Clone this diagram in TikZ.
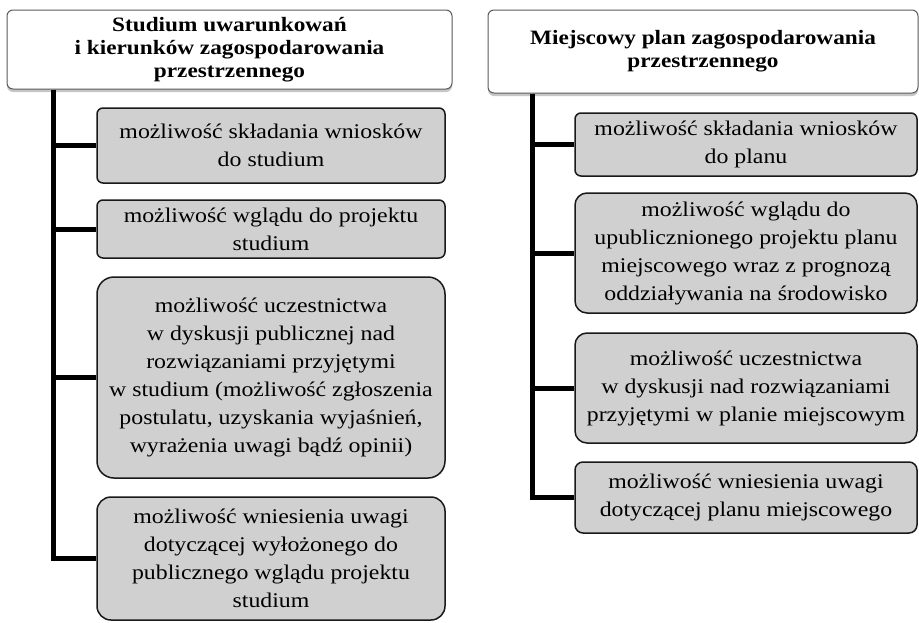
\documentclass[tikz,border=0pt]{standalone}
\usepackage{fontspec}
\setmainfont[FakeStretch=1.14]{Liberation Serif}
\usetikzlibrary{shadows}
\definecolor{boxfill}{RGB}{208,208,208}
\definecolor{headdraw}{RGB}{90,90,90}
\tikzset{
  headbox/.style={draw=headdraw, line width=1pt, fill=white, rounded corners=6pt,
    align=center, inner sep=0pt, font=\fontsize{20.4}{23}\selectfont\bfseries,
    drop shadow={shadow xshift=0pt, shadow yshift=-3pt, opacity=0.45, fill=gray}},
  itembox/.style={draw=black!90, line width=1.5pt, fill=boxfill,
    align=center, inner sep=0pt, font=\fontsize{20.9}{28}\selectfont},
  conn/.style={line width=5pt, draw=black},
}
\begin{document}
\begin{tikzpicture}[x=1pt,y=-1pt]
\useasboundingbox (0,0) rectangle (919,622);
% left column
\node[headbox, minimum width=445pt, minimum height=79pt] (LH) at (229.5,49.5)
  {Studium uwarunkowań\\i kierunków zagospodarowania\\przestrzennego};
\node[itembox, rounded corners=6pt, minimum width=348pt, minimum height=75pt] (L1) at (271,145.5)
  {możliwość składania wniosków\\do studium};
\node[itembox, rounded corners=6pt, minimum width=348pt, minimum height=58pt] (L2) at (271,229)
  {możliwość wglądu do projektu\\studium};
\node[itembox, rounded corners=17pt, minimum width=348pt, minimum height=201pt] (L3) at (271,377.5)
  {możliwość uczestnictwa\\w dyskusji publicznej nad\\rozwiązaniami przyjętymi\\w studium (możliwość zgłoszenia\\postulatu, uzyskania wyjaśnień,\\wyrażenia uwagi bądź opinii)};
\node[itembox, rounded corners=14pt, minimum width=348pt, minimum height=123pt] (L4) at (271,558.5)
  {możliwość wniesienia uwagi\\dotyczącej wyłożonego do\\publicznego wglądu projektu\\studium};
\coordinate (Ltop) at (LH.south -| 53,0);
\draw[conn] (Ltop) |- (L4.west);
\draw[conn] (L1.west -| Ltop) -- (L1.west);
\draw[conn] (L2.west -| Ltop) -- (L2.west);
\draw[conn] (L3.west -| Ltop) -- (L3.west);
% right column
\node[headbox, minimum width=430pt, minimum height=83pt] (RH) at (703,51.5)
  {Miejscowy plan zagospodarowania\\przestrzennego};
\node[itembox, rounded corners=6pt, minimum width=342pt, minimum height=63pt] (R1) at (746,144.5)
  {możliwość składania wniosków\\do planu};
\node[itembox, rounded corners=12pt, minimum width=342pt, minimum height=120pt] (R2) at (746,253)
  {możliwość wglądu do\\upublicznionego projektu planu\\miejscowego wraz z prognozą\\oddziaływania na środowisko};
\node[itembox, rounded corners=12pt, minimum width=342pt, minimum height=110pt] (R3) at (746,388)
  {możliwość uczestnictwa\\w dyskusji nad rozwiązaniami\\przyjętymi w planie miejscowym};
\node[itembox, rounded corners=8pt, minimum width=342pt, minimum height=71pt] (R4) at (746,497.5)
  {możliwość wniesienia uwagi\\dotyczącej planu miejscowego};
\coordinate (Rtop) at (RH.south -| 532,0);
\draw[conn] (Rtop) |- (R4.west);
\draw[conn] (R1.west -| Rtop) -- (R1.west);
\draw[conn] (R2.west -| Rtop) -- (R2.west);
\draw[conn] (R3.west -| Rtop) -- (R3.west);
\end{tikzpicture}
\end{document}
